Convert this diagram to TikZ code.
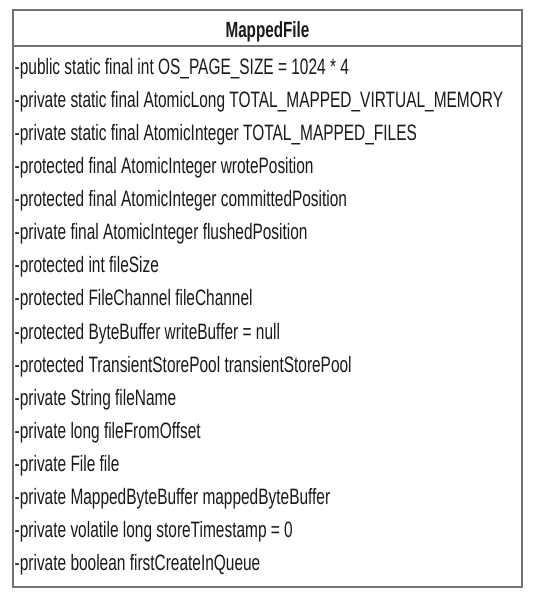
\documentclass[tikz,border=0pt]{standalone}
\usepackage{fontspec}
\setmainfont[FakeStretch=0.693]{Liberation Sans}
\begin{document}
\begin{tikzpicture}[x=1pt, y=-1pt,
		umlline/.style={draw=black!55, line width=1.1pt},
		classname/.style={anchor=base, inner sep=0pt, text=black!90, font=\fontsize{22pt}{26pt}\selectfont\bfseries},
		attrline/.style={anchor=base west, inner sep=0pt, text=black!90, font=\fontsize{22.3pt}{26pt}\selectfont}]
			\useasboundingbox (0,0) rectangle (537,592);
			\coordinate (boxnw) at (13,10);
			\coordinate (boxse) at (522,587);
			\coordinate (sepw) at (13,46);
			\coordinate (sepe) at (522,46);
			\draw[umlline] (boxnw) rectangle (boxse);
			\draw[umlline] (sepw) -- (sepe);
			\node[classname] (mappedfile) at (267.5,37.5) {MappedFile};
			% attributes, one per line
			\foreach \attr [count=\i] in {
				-public static final int OS\_PAGE\_SIZE = 1024 * 4,
				-private static final AtomicLong TOTAL\_MAPPED\_VIRTUAL\_MEMORY,
				-private static final AtomicInteger TOTAL\_MAPPED\_FILES,
				-protected final AtomicInteger wrotePosition,
				-protected final AtomicInteger committedPosition,
				-private final AtomicInteger flushedPosition,
				-protected int fileSize,
				-protected FileChannel fileChannel,
				-protected ByteBuffer writeBuffer = null,
				-protected TransientStorePool transientStorePool,
				-private String fileName,
				-private long fileFromOffset,
				-private File file,
				-private MappedByteBuffer mappedByteBuffer,
				-private volatile long storeTimestamp = 0,
				-private boolean firstCreateInQueue} {
				\node[attrline] (attr\i) at (14.5, {74 + (\i-1)*33.13}) {\attr};
			}
			\end{tikzpicture}
\end{document}
